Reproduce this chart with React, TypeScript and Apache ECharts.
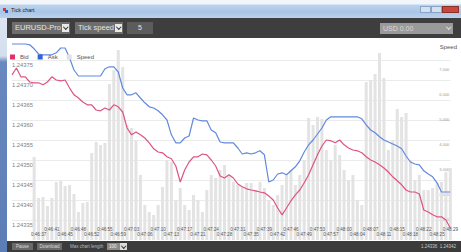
import React, { useEffect, useRef } from 'react';
import * as echarts from 'echarts';

const categories: string[] = (
  '0:46:30 0:46:31 0:46:32 0:46:34 0:46:35 0:46:36 0:46:37 0:46:39 0:46:40 0:46:41 ' +
  '0:46:42 0:46:43 0:46:45 0:46:46 0:46:47 0:46:48 0:46:49 0:46:51 0:46:52 0:46:53 ' +
  '0:46:54 0:46:55 0:46:57 0:46:58 0:46:59 0:47:00 0:47:01 0:47:03 0:47:04 0:47:05 ' +
  '0:47:06 0:47:07 0:47:08 0:47:10 0:47:11 0:47:12 0:47:13 0:47:15 0:47:16 0:47:17 ' +
  '0:47:18 0:47:19 0:47:21 0:47:22 0:47:23 0:47:24 0:47:25 0:47:27 0:47:28 0:47:29 ' +
  '0:47:30 0:47:31 0:47:33 0:47:34 0:47:35 0:47:36 0:47:37 0:47:39 0:47:40 0:47:41 ' +
  '0:47:42 0:47:43 0:47:45 0:47:46 0:47:47 0:47:48 0:47:49 0:47:51 0:47:52 0:47:53 ' +
  '0:47:54 0:47:55 0:47:57 0:47:58 0:47:59 0:48:00 0:48:01 0:48:03 0:48:04 0:48:05 ' +
  '0:48:06 0:48:07 0:48:08 0:48:10 0:48:11 0:48:12 0:48:13 0:48:15 0:48:16 0:48:17 ' +
  '0:48:18 0:48:19 0:48:21 0:48:22 0:48:23 0:48:24 0:48:25 0:48:27 0:48:28 0:48:29'
).split(' ');

const askValues: number[] = [
  1.24379, 1.24379, 1.24379, 1.24379, 1.243788, 1.243778, 1.243765, 1.243763, 1.243763, 1.243763,
  1.243768, 1.24378, 1.24378, 1.243755, 1.243725, 1.24371, 1.24371, 1.24371, 1.24371, 1.24371,
  1.24371, 1.243728, 1.243733, 1.243733, 1.24372, 1.24368, 1.243663, 1.243663, 1.243668, 1.243655,
  1.243643, 1.243633, 1.24363, 1.243623, 1.243613, 1.2436, 1.243563, 1.243543, 1.243543, 1.243555,
  1.24356, 1.243605, 1.2436, 1.243598, 1.243598, 1.243575, 1.243568, 1.243545, 1.243543, 1.243543,
  1.243543, 1.24353, 1.243515, 1.243518, 1.243515, 1.243518, 1.243523, 1.243513, 1.243445, 1.24345,
  1.243465, 1.243468, 1.243463, 1.243473, 1.243483, 1.243498, 1.24352, 1.243538, 1.24355, 1.243565,
  1.24358, 1.2436, 1.243608, 1.243608, 1.243608, 1.243608, 1.243608, 1.243608, 1.243608, 1.243603,
  1.243588, 1.243575, 1.243568, 1.243558, 1.24355, 1.243545, 1.24354, 1.243535, 1.243528, 1.24351,
  1.243495, 1.24349, 1.243488, 1.243473, 1.243465, 1.243458, 1.243443, 1.24342, 1.24342, 1.24342,
];

const bidValues: number[] = [
  1.243713, 1.24373, 1.243708, 1.243708, 1.243695, 1.243693, 1.243693, 1.243688, 1.243695, 1.243708,
  1.2437, 1.243698, 1.2437, 1.24368, 1.243663, 1.243655, 1.243645, 1.243638, 1.243638, 1.243625,
  1.243623, 1.24363, 1.243625, 1.243638, 1.243633, 1.24362, 1.24358, 1.243563, 1.24357, 1.243563,
  1.243555, 1.243543, 1.243528, 1.24352, 1.243518, 1.243508, 1.243503, 1.243485, 1.243445, 1.243475,
  1.243495, 1.243508, 1.243508, 1.243515, 1.243513, 1.2435, 1.243485, 1.24346, 1.243455, 1.243463,
  1.243455, 1.24344, 1.243433, 1.243428, 1.243425, 1.243423, 1.24342, 1.243418, 1.24341, 1.2434,
  1.24338, 1.243363, 1.24338, 1.243398, 1.243413, 1.243425, 1.243443, 1.243463, 1.243488, 1.243513,
  1.243535, 1.24355, 1.243548, 1.243543, 1.24355, 1.243538, 1.24353, 1.243525, 1.243523, 1.243518,
  1.243508, 1.2435, 1.243495, 1.243488, 1.24348, 1.24347, 1.243458, 1.243448, 1.243438, 1.243425,
  1.24342, 1.24342, 1.243415, 1.243375, 1.24337, 1.243363, 1.243358, 1.243358, 1.24335, 1.24333,
];

const speedValues: (number | null)[] = [
  null, null, null, null, null, 3320, 1680, 1720, 1360, 1680,
  2320, 2360, 2160, 2200, 1840, 1120, 1480, 1520, 3480, 3920,
  3800, 3880, 6240, 6800, 7600, 6920, 4600, 4480, 4000, 2600,
  1400, 1120, 1000, 1400, 2120, 3200, 3120, 1600, 2080, 1400,
  1200, 1800, 1600, 1120, 2000, 2600, 2480, 2800, 3000, 2600,
  2320, 2200, 2120, 2280, 2280, 2000, 2320, 2080, 1600, 1400,
  1800, 2200, 2600, 2800, 2200, 2600, 3200, 4880, 4600, 4920,
  4840, 3600, 3200, 3800, 3400, 2800, 2400, 2600, 1600, 1400,
  6320, 6400, 6640, 7480, 6480, 3600, 4000, 5240, 4920, 5080,
  3200, 2400, 2600, 2000, 2000, 2080, 2280, 2320, 2720, 2880,
];

const priceMin = 1.2433;
const priceMax = 1.2438;
const priceStep = 0.00005;
const speedMax = 8000;
const speedStep = 1000;

const FONT = '"Liberation Sans", Arial, sans-serif';

const Arrow = ({ light }: { light?: boolean }) => (
  <div
    style={{
      width: 2.5,
      height: 2.5,
      borderRight: `1px solid ${light ? '#e0e0e0' : '#333'}`,
      borderBottom: `1px solid ${light ? '#e0e0e0' : '#333'}`,
      transform: 'rotate(45deg)',
      marginTop: -2,
    }}
  />
);

const Drop = ({ x, y, w, h, text, fs }: { x: number; y: number; w: number; h: number; text: string; fs: number }) => (
  <div style={{ position: 'absolute', left: x, top: y, width: w, height: h, background: '#6d6d6d' }}>
    <div style={{ position: 'absolute', left: 3, top: 0, lineHeight: h + 'px', fontSize: fs, color: '#e4e4e4', whiteSpace: 'nowrap' }}>{text}</div>
    <div
      style={{
        position: 'absolute',
        right: 1,
        top: 2,
        width: 7,
        height: h - 4,
        background: '#e9e9e9',
        display: 'flex',
        alignItems: 'center',
        justifyContent: 'center',
      }}
    >
      <Arrow />
    </div>
  </div>
);

const Btn = ({ x, w, text }: { x: number; w: number; text: string }) => (
  <div
    style={{
      position: 'absolute',
      left: x,
      top: 243,
      width: w,
      height: 7,
      background: '#6a6a6a',
      color: '#dddddd',
      fontSize: 4.5,
      lineHeight: '7px',
      textAlign: 'center',
    }}
  >
    {text}
  </div>
);

export default function App() {
  const ref = useRef<HTMLDivElement>(null);

  useEffect(() => {
    document.body.style.margin = '0';
    const chart = echarts.init(ref.current as HTMLDivElement, null, { renderer: 'svg' });
    chart.setOption({
      animation: false,
      textStyle: { fontFamily: FONT },
      title: {
        text: 'Speed',
        right: 4,
        top: 6,
        padding: 0,
        textStyle: { fontSize: 6, fontWeight: 'normal', color: '#555', fontFamily: FONT },
      },
      grid: { left: 4, right: 4, top: 2, bottom: 0, containLabel: false },
      legend: {
        left: 2,
        top: 16,
        padding: 0,
        itemWidth: 5,
        itemHeight: 5,
        itemGap: 9,
        icon: 'rect',
        textStyle: { fontSize: 6, color: '#555', fontFamily: FONT },
        data: [
          { name: 'Bid', itemStyle: { color: '#e2306a' } },
          { name: 'Ask', itemStyle: { color: '#2f64d4' } },
          { name: 'Speed', itemStyle: { color: '#e2e2e2' } },
        ],
      },
      xAxis: {
        type: 'category',
        data: categories,
        boundaryGap: false,
        z: 10,
        axisLine: { show: false },
        axisTick: { show: false },
        splitLine: { show: false },
        axisLabel: {
          inside: true,
          margin: 3,
          interval: (i: number) => i >= 6 && i % 3 === 0,
          formatter: (v: string, i: number) => (i % 6 === 0 ? `{lo|${v}}` : `{hi|${v}}`),
          rich: {
            lo: { fontSize: 4.6, color: '#555', fontFamily: FONT },
            hi: { fontSize: 4.6, color: '#555', fontFamily: FONT, padding: [0, 0, 5, 0] },
          },
        },
      },
      yAxis: [
        {
          type: 'value',
          min: priceMin,
          max: priceMax,
          interval: priceStep,
          position: 'left',
          axisLine: { show: false },
          axisTick: { show: false },
          splitLine: { show: true, showMinLine: false, showMaxLine: false, lineStyle: { color: '#ebebeb', width: 1 } },
          axisLabel: {
            inside: true,
            margin: 0,
            fontSize: 5.8,
            color: '#808080',
            verticalAlign: 'top',
            padding: [2, 0, 0, 0],
            showMinLabel: false,
            showMaxLabel: false,
            formatter: (v: number) => v.toFixed(5),
          },
        },
        {
          type: 'value',
          min: 0,
          max: speedMax,
          interval: speedStep,
          position: 'right',
          axisLine: { show: false },
          axisTick: { show: false },
          splitLine: { show: false },
          axisLabel: {
            inside: true,
            margin: 1,
            fontSize: 4,
            color: '#999',
            verticalAlign: 'top',
            padding: [2, 0, 0, 0],
            showMinLabel: false,
            showMaxLabel: false,
            formatter: (v: number) => v.toLocaleString('en-US'),
          },
        },
      ],
      series: [
        {
          name: 'Speed',
          type: 'bar',
          yAxisIndex: 1,
          data: speedValues,
          barWidth: 3,
          itemStyle: { color: '#e3e3e3' },
          z: 1,
        },
        {
          name: 'Ask',
          type: 'line',
          data: askValues,
          showSymbol: false,
          lineStyle: { color: '#6089de', width: 1.2 },
          itemStyle: { color: '#6089de' },
          z: 3,
        },
        {
          name: 'Bid',
          type: 'line',
          data: bidValues,
          showSymbol: false,
          lineStyle: { color: '#dd5481', width: 1.2 },
          itemStyle: { color: '#dd5481' },
          z: 4,
        },
      ],
    });
    return () => chart.dispose();
  }, []);

  return (
    <div
      style={{
        position: 'fixed',
        left: 0,
        top: 0,
        width: 461,
        height: 252,
        overflow: 'hidden',
        background: '#ffffff',
        fontFamily: FONT,
      }}
    >
      {/* title bar */}
      <div
        style={{
          position: 'absolute',
          left: 0,
          top: 0,
          width: 461,
          height: 18,
          background: 'linear-gradient(#f2f5f9 0px, #f2f5f9 4px, #bdd3ec 5px, #a9c5e7 12px, #bcd2eb 18px)',
        }}
      />
      <div style={{ position: 'absolute', left: 3, top: 8, width: 3, height: 3, background: '#d23a3a' }} />
      <div style={{ position: 'absolute', left: 5, top: 10, width: 3, height: 3, background: '#2a5cc8' }} />
      <div style={{ position: 'absolute', left: 11, top: 7, fontSize: 5.5, lineHeight: '7px', color: '#1f1f1f' }}>Tick chart</div>
      <div style={{ position: 'absolute', left: 420, top: 6, width: 11, height: 7, background: '#d3e0f0', border: '0.5px solid #8aa4c8', boxSizing: 'border-box' }} />
      <div style={{ position: 'absolute', left: 431, top: 6, width: 11, height: 7, background: '#d3e0f0', border: '0.5px solid #8aa4c8', boxSizing: 'border-box' }} />
      <div style={{ position: 'absolute', left: 442, top: 6, width: 17, height: 7, background: '#c9473d', border: '0.5px solid #8a3029', boxSizing: 'border-box' }} />

      {/* left window frame */}
      <div
        style={{
          position: 'absolute',
          left: 0,
          top: 18,
          width: 7,
          height: 234,
          background: 'linear-gradient(#dde6f1 0px, #d4dfee 38px, #6888bf 44px, #5c7db6 234px)',
        }}
      />

      {/* toolbar */}
      <div style={{ position: 'absolute', left: 7, top: 18, width: 454, height: 20, background: '#3e3e3e' }} />
      <Drop x={12} y={22} w={58} h={12} text="EURUSD-Pro" fs={7.5} />
      <Drop x={75} y={22} w={48} h={12} text="Tick speed" fs={7.5} />
      <div
        style={{
          position: 'absolute',
          left: 127,
          top: 22,
          width: 26,
          height: 12,
          background: '#5c5c5c',
          color: '#e6e6e6',
          fontSize: 7,
          lineHeight: '12px',
          textAlign: 'center',
        }}
      >
        5
      </div>
      <div style={{ position: 'absolute', left: 380, top: 23, width: 73, height: 11, background: '#9a9a9a' }}>
        <div style={{ position: 'absolute', left: 3, top: 0, fontSize: 7, lineHeight: '11px', color: '#d9d9d9' }}>USD 0.00</div>
        <div style={{ position: 'absolute', right: 3, top: 4 }}>
          <Arrow light />
        </div>
      </div>

      {/* chart */}
      <div ref={ref} style={{ position: 'absolute', left: 8, top: 38, width: 453, height: 202 }} />

      {/* footer */}
      <div style={{ position: 'absolute', left: 7, top: 241, width: 454, height: 11, background: '#3b3b3b' }} />
      <Btn x={12} w={21} text="Pause" />
      <Btn x={37} w={25} text="Download" />
      <div style={{ position: 'absolute', left: 70, top: 243, fontSize: 4.5, lineHeight: '7px', color: '#bbbbbb', whiteSpace: 'nowrap' }}>
        Max chart length
      </div>
      <div style={{ position: 'absolute', left: 107, top: 243, width: 20, height: 7, background: '#8a8a8a' }}>
        <div style={{ position: 'absolute', left: 2, top: 0, fontSize: 4.5, lineHeight: '7px', color: '#eeeeee' }}>100</div>
        <div
          style={{
            position: 'absolute',
            right: 0,
            top: 0,
            width: 7,
            height: 7,
            background: '#dddddd',
            display: 'flex',
            alignItems: 'center',
            justifyContent: 'center',
          }}
        >
          <Arrow />
        </div>
      </div>
      <div style={{ position: 'absolute', left: 421, top: 243, fontSize: 4.5, lineHeight: '7px', color: '#cccccc', whiteSpace: 'nowrap' }}>
        1.24336&nbsp;&nbsp;1.24342
      </div>
    </div>
  );
}
